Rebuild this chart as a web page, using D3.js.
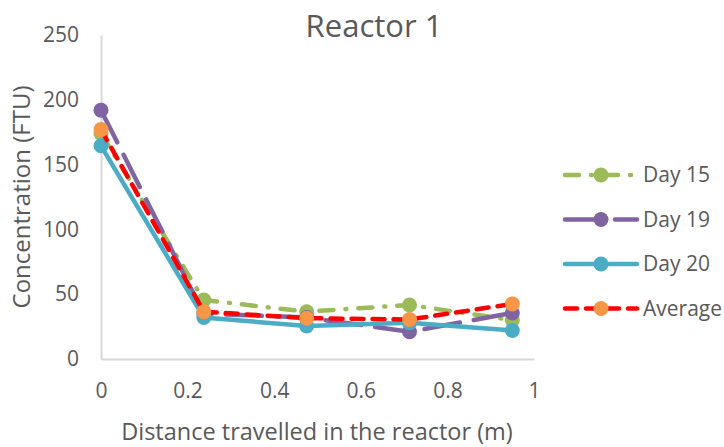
<!DOCTYPE html>
<html>
<head>
<meta charset="utf-8">
<script src="https://cdn.jsdelivr.net/npm/d3@7"></script>
<style>
  body { margin: 0; background: #fff; }
  text { font-family: "Open Sans", sans-serif; fill: #595959; }
</style>
</head>
<body>
<svg id="chart" width="724" height="447"></svg>
<script>
// distances along the reactor (m)
let distance = [0, 0.2375, 0.475, 0.7125, 0.95];
let day15 = [174, 45.5, 36.5, 41.7, 30];
let day19 = [192, 35, 32, 21, 35.5];
let day20 = [164.5, 32, 25.5, 28, 22];
let average = [177, 36.5, 31.5, 30.5, 42.5];
let xTicks = [0, 0.2, 0.4, 0.6, 0.8, 1];
let yTicks = [0, 50, 100, 150, 200, 250];

let series = [
  {name: "Day 15", values: day15, color: "#9BBB59", marker: "#9BBB59", dash: "14,12,1,12"},
  {name: "Day 19", values: day19, color: "#8064A2", marker: "#8064A2", dash: "36,14"},
  {name: "Day 20", values: day20, color: "#4BACC6", marker: "#4BACC6", dash: null},
  {name: "Average", values: average, color: "#FF0000", marker: "#F79646", dash: "12,9"}
];

let margin = {top: 35, right: 190, bottom: 88, left: 101}
  , width = 724 - margin.left - margin.right
  , height = 447 - margin.top - margin.bottom;

let svg = d3.select("#chart");
let g = svg.append("g")
    .attr("transform", "translate(" + margin.left + "," + margin.top + ")");

let xScale = d3.scaleLinear().domain([0, 1]).range([0, width]);
let yScale = d3.scaleLinear().domain([0, 250]).range([height, 0]);

// axes
let xAxis = g.append("g")
    .attr("transform", "translate(0," + height + ")")
    .call(d3.axisBottom(xScale).tickValues(xTicks).tickSize(0).tickPadding(24).tickFormat(d3.format("")));
let yAxis = g.append("g")
    .call(d3.axisLeft(yScale).tickValues(yTicks).tickSize(0).tickPadding(22));
[xAxis, yAxis].forEach(a => {
  a.select(".domain").attr("stroke", "#D9D9D9").attr("stroke-width", 2);
  a.selectAll("text").style("font-size", "21px").attr("fill", "#595959");
});

let line = d3.line()
    .x((d, i) => xScale(distance[i]))
    .y(d => yScale(d));

series.forEach(s => {
  g.append("path")
      .datum(s.values)
      .attr("fill", "none")
      .attr("stroke", s.color)
      .attr("stroke-width", 4.5)
      .attr("stroke-linecap", "round")
      .attr("stroke-dasharray", s.dash)
      .attr("d", line);
  g.selectAll(".dot-" + s.name.replace(" ", ""))
      .data(s.values)
    .enter().append("circle")
      .attr("cx", (d, i) => xScale(distance[i]))
      .attr("cy", d => yScale(d))
      .attr("r", 7.5)
      .attr("fill", s.marker);
});

// title
svg.append("text")
    .attr("x", 374).attr("y", 37)
    .attr("text-anchor", "middle")
    .style("font-size", "31px")
    .text("Reactor 1");

// axis titles
svg.append("text")
    .attr("x", 317).attr("y", 440)
    .attr("text-anchor", "middle")
    .style("font-size", "23.5px")
    .text("Distance travelled in the reactor (m)");
svg.append("text")
    .attr("transform", "translate(30,197) rotate(-90)")
    .attr("text-anchor", "middle")
    .style("font-size", "24px")
    .text("Concentration (FTU)");

// legend
let legend = svg.append("g").attr("transform", "translate(565,175)");
series.forEach((s, i) => {
  let row = legend.append("g").attr("transform", "translate(0," + (i * 44.5) + ")");
  row.append("line")
      .attr("x1", 0).attr("x2", 72)
      .attr("stroke", s.color)
      .attr("stroke-width", 4.5)
      .attr("stroke-linecap", "round")
      .attr("stroke-dasharray", s.dash);
  row.append("circle").attr("cx", 36).attr("r", 7.5).attr("fill", s.marker);
  row.append("text")
      .attr("x", 78).attr("dy", "0.35em")
      .style("font-size", "21px")
      .text(s.name);
});
</script>
</body>
</html>
